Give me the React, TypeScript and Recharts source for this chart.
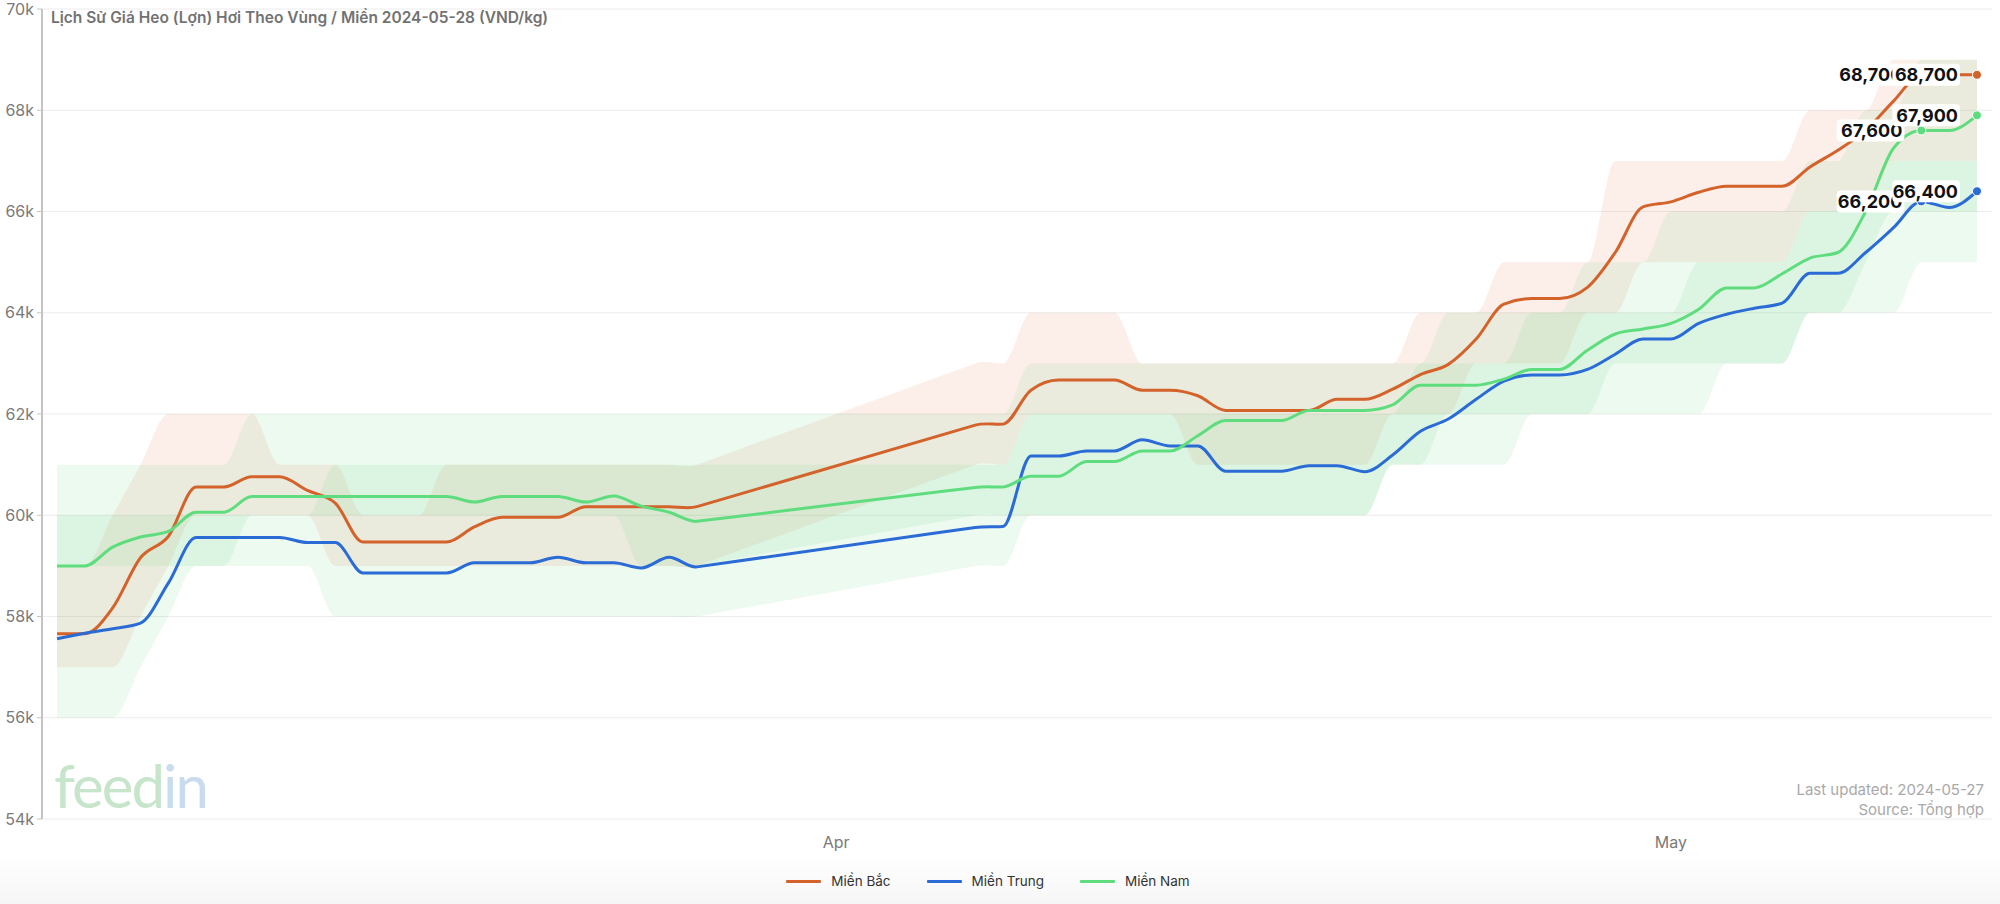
import React from 'react';
import { ComposedChart, Area, Line, XAxis, YAxis, CartesianGrid, LabelList } from 'recharts';

// day 0 = 4 Mar 2024, no data between day 24 and day 32
const days = [
  0, 1, 2, 3, 4, 5, 6, 7, 8, 9, 10, 11, 12, 13, 14, 15, 16, 17, 18, 19, 20, 21, 22, 23,
  33, 34, 35, 36, 37, 38, 39, 40, 41, 42, 43, 44, 45, 46, 47, 48, 49, 50, 51, 52, 53, 54, 55, 56, 57, 58, 59, 60, 61, 62, 63, 64, 65, 66, 67, 68, 69,
];

const bac = [
  57660, 57660, 58170, 59160, 59580, 60560, 60560, 60760, 60760, 60490, 60240, 59470, 59470, 59470, 59470, 59770, 59960, 59960, 59960, 60170, 60170, 60170, 60170, 60170,
  61780, 61800, 62470, 62670, 62670, 62670, 62470, 62470, 62360, 62070, 62070, 62070, 62070, 62290, 62290, 62490, 62780, 62980, 63480, 64170, 64280, 64280, 64500, 65190, 66090, 66190, 66380, 66500, 66500, 66500, 66880, 67210, 67600, 68180, 68700, 68700, 68700,
];
const trung = [
  57560, 57670, 57760, 57870, 58660, 59560, 59560, 59560, 59560, 59460, 59460, 58860, 58860, 58860, 58860, 59060, 59060, 59060, 59170, 59060, 59060, 58960, 59170, 58980,
  59760, 59780, 61170, 61170, 61270, 61270, 61490, 61370, 61370, 60870, 60870, 60870, 60980, 60980, 60860, 61190, 61660, 61900, 62290, 62650, 62770, 62770, 62880, 63180, 63480, 63480, 63790, 63970, 64090, 64190, 64780, 64780, 65190, 65680, 66200, 66080, 66400,
];
const nam = [
  59000, 59000, 59370, 59570, 59680, 60060, 60060, 60370, 60370, 60370, 60370, 60370, 60370, 60370, 60370, 60260, 60370, 60370, 60370, 60260, 60380, 60180, 60060, 59880,
  60550, 60560, 60770, 60770, 61060, 61060, 61270, 61270, 61570, 61870, 61870, 61870, 62070, 62070, 62070, 62180, 62570, 62570, 62570, 62690, 62880, 62880, 63260, 63580, 63680, 63790, 64070, 64490, 64490, 64770, 65080, 65190, 66000, 67250, 67600, 67600, 67900,
];

// min / max across provinces (thousand VND)
const bacMin = [
  57, 57, 57, 58, 59, 60, 60, 60, 60, 60, 59, 59, 59, 59, 59, 59, 59, 59, 59, 59, 59, 59, 59, 59,
  61, 61, 62, 62, 62, 62, 62, 62, 61, 61, 61, 61, 61, 61, 61, 62, 62, 62, 63, 63, 63, 63, 64, 64, 65, 65, 65, 65, 65, 65, 66, 66, 66, 67, 67, 67, 67,
];
const bacMax = [
  59, 59, 60, 61, 62, 62, 62, 62, 61, 61, 61, 60, 60, 60, 61, 61, 61, 61, 61, 61, 61, 61, 61, 61,
  63, 63, 64, 64, 64, 64, 63, 63, 63, 63, 63, 63, 63, 63, 63, 63, 64, 64, 64, 65, 65, 65, 65, 67, 67, 67, 67, 67, 67, 67, 68, 68, 68, 69, 69, 69, 69,
];
const trungMin = [
  56, 56, 56, 57, 58, 59, 59, 59, 59, 59, 58, 58, 58, 58, 58, 58, 58, 58, 58, 58, 58, 58, 58, 58,
  59, 59, 60, 60, 60, 60, 60, 60, 60, 60, 60, 60, 60, 60, 60, 61, 61, 61, 61, 61, 62, 62, 62, 62, 62, 62, 62, 63, 63, 63, 64, 64, 64, 64, 65, 65, 65,
];
const trungMax = [
  60, 60, 60, 60, 60, 60, 60, 60, 60, 60, 61, 61, 61, 61, 61, 61, 61, 61, 61, 61, 61, 61, 61, 61,
  61, 61, 62, 62, 62, 62, 62, 62, 62, 62, 62, 62, 62, 62, 62, 62, 63, 63, 63, 63, 64, 64, 64, 64, 64, 64, 65, 65, 65, 65, 66, 66, 66, 67, 67, 67, 67,
];
const namMin = [
  59, 59, 59, 59, 59, 59, 59, 60, 60, 60, 60, 60, 60, 60, 60, 60, 60, 60, 60, 60, 60, 59, 59, 59,
  60, 60, 60, 60, 60, 60, 60, 60, 60, 60, 60, 60, 60, 60, 60, 61, 61, 62, 62, 62, 62, 62, 62, 63, 63, 63, 63, 63, 63, 63, 64, 64, 65, 66, 66, 66, 66,
];
const namMax = [
  61, 61, 61, 61, 61, 61, 61, 62, 62, 62, 62, 62, 62, 62, 62, 62, 62, 62, 62, 62, 62, 62, 62, 62,
  62, 62, 63, 63, 63, 63, 63, 63, 63, 63, 63, 63, 63, 63, 63, 63, 63, 64, 64, 64, 64, 64, 65, 65, 65, 66, 66, 66, 66, 66, 67, 67, 68, 68, 69, 69, 69,
];

const labelDays = [67, 69];
const monthTicks = [28, 58];
const monthNames = ['Apr', 'May'];
const yTicks = [54000, 56000, 58000, 60000, 62000, 64000, 66000, 68000, 70000];

const series = [
  { key: 'bac', name: 'Miền Bắc', color: '#d4622b', band: '#e8703c', bandOpacity: 0.11 },
  { key: 'trung', name: 'Miền Trung', color: '#2b6bd6', band: '#4fcf6a', bandOpacity: 0.1 },
  { key: 'nam', name: 'Miền Nam', color: '#5fdd7e', band: '#4fcf6a', bandOpacity: 0.1 },
];

const rows = days.map((day, i) => {
  const show = labelDays.includes(day);
  return {
    day,
    bac: bac[i],
    trung: trung[i],
    nam: nam[i],
    bacBand: [bacMin[i] * 1000, bacMax[i] * 1000],
    trungBand: [trungMin[i] * 1000, trungMax[i] * 1000],
    namBand: [namMin[i] * 1000, namMax[i] * 1000],
    bacLabel: show ? bac[i] : undefined,
    trungLabel: show ? trung[i] : undefined,
    namLabel: show ? nam[i] : undefined,
  };
});

const FONT = 'Inter, "Liberation Sans", sans-serif';

// monotone cubic curve; across a long gap between dates the segment is kept straight
const sgn = (v: number) => (v < 0 ? -1 : 1);
const gapCurve = (context: any) => {
  let pts: number[][] = [];
  let line = NaN;
  return {
    areaStart() { line = 0; },
    areaEnd() { line = NaN; },
    lineStart() { pts = []; },
    point(x: number, y: number) { pts.push([+x, +y]); },
    lineEnd() {
      const n = pts.length;
      if (n > 0) {
        if (line) context.lineTo(pts[0][0], pts[0][1]);
        else context.moveTo(pts[0][0], pts[0][1]);
        if (n === 2) context.lineTo(pts[1][0], pts[1][1]);
        if (n > 2) {
          const h: number[] = [];
          const s: number[] = [];
          for (let i = 0; i < n - 1; i++) {
            h.push(pts[i + 1][0] - pts[i][0]);
            s.push(h[i] ? (pts[i + 1][1] - pts[i][1]) / h[i] : 0);
          }
          const m: number[] = new Array(n).fill(0);
          for (let i = 1; i < n - 1; i++) {
            const h0 = h[i - 1];
            const h1 = h[i];
            if (Math.abs(h1) > 3 * Math.abs(h0)) m[i] = s[i];
            else if (Math.abs(h0) > 3 * Math.abs(h1)) m[i] = s[i - 1];
            else {
              const p = (s[i - 1] * h1 + s[i] * h0) / (h0 + h1);
              m[i] = (sgn(s[i - 1]) + sgn(s[i])) * Math.min(Math.abs(s[i - 1]), Math.abs(s[i]), 0.5 * Math.abs(p)) || 0;
            }
          }
          m[0] = (3 * s[0] - m[1]) / 2;
          m[n - 1] = (3 * s[n - 2] - m[n - 2]) / 2;
          for (let i = 0; i < n - 1; i++) {
            const dx = h[i] / 3;
            context.bezierCurveTo(
              pts[i][0] + dx, pts[i][1] + dx * m[i],
              pts[i + 1][0] - dx, pts[i + 1][1] - dx * m[i + 1],
              pts[i + 1][0], pts[i + 1][1],
            );
          }
        }
      }
      if (line || (line !== 0 && n === 1)) context.closePath();
      line = 1 - line;
    },
  };
};

const makeDot = (color: string) => (props: any) => {
  const { cx, cy, payload, index } = props;
  if (!payload || !labelDays.includes(payload.day)) return <g key={`dot-${index}`} />;
  return <circle key={`dot-${index}`} cx={cx} cy={cy} r={4.5} fill={color} stroke="#fff" strokeWidth={1} />;
};

const PriceLabel = (props: any) => {
  const { value } = props;
  if (value === undefined || value === null) return null;
  const x = props.x ?? props.viewBox?.x;
  const y = props.y ?? props.viewBox?.y;
  const text = Number(value).toLocaleString('en-US');
  const w = text.length * 10.6 + 4;
  const right = x - 17;
  return (
    <g>
      <rect x={right - w} y={y - 11} width={w} height={22} rx={4} fill="#fff" />
      <text x={right - 2} y={y} dy="0.36em" textAnchor="end" fontSize={18} fontWeight={700} fill="#111" fontFamily={FONT}>
        {text}
      </text>
    </g>
  );
};

export default function App() {
  return (
    <div style={{ position: 'absolute', left: 0, top: 0, width: 2000, height: 904, background: '#fff', fontFamily: FONT, overflow: 'hidden' }}>
      <div style={{ position: 'absolute', left: 0, right: 0, bottom: 0, height: 50, background: 'linear-gradient(to bottom, rgba(0,0,0,0), rgba(0,0,0,0.035))' }} />
      <ComposedChart width={2000} height={904} data={rows} margin={{ top: 9, right: 8, bottom: 45, left: 0 }}>
        <CartesianGrid vertical={false} stroke="#ececec" />
        <XAxis
          dataKey="day"
          type="number"
          domain={[-0.539, 69.54]}
          allowDataOverflow
          ticks={monthTicks}
          tickFormatter={(v: number) => monthNames[monthTicks.indexOf(v)] ?? ''}
          axisLine={false}
          tickLine={false}
          tickMargin={12}
          height={40}
          tick={{ fill: '#7a7a7a', fontSize: 16, fontFamily: FONT }}
        />
        <YAxis
          domain={[54000, 70000]}
          ticks={yTicks}
          allowDataOverflow
          width={42}
          tickFormatter={(v: number) => `${v / 1000}k`}
          axisLine={{ stroke: '#c4c4c4', strokeWidth: 2 }}
          tickLine={{ stroke: '#c4c4c4' }}
          tickSize={5}
          tickMargin={3}
          tick={{ fill: '#7a7a7a', fontSize: 16, fontFamily: FONT }}
        />
        {series.map((s) => (
          <Area
            key={`${s.key}Band`}
            type={gapCurve as any}
            dataKey={`${s.key}Band`}
            stroke="none"
            fill={s.band}
            fillOpacity={s.bandOpacity}
            isAnimationActive={false}
            activeDot={false}
          />
        ))}
        {series.map((s) => (
          <Line
            key={s.key}
            type={gapCurve as any}
            dataKey={s.key}
            stroke={s.color}
            strokeWidth={3}
            dot={makeDot(s.color)}
            activeDot={false}
            isAnimationActive={false}
          />
        ))}
        {series.map((s) => (
          <Line
            key={`${s.key}Labels`}
            type="linear"
            dataKey={s.key}
            stroke="none"
            dot={false}
            activeDot={false}
            isAnimationActive={false}
          >
            <LabelList dataKey={`${s.key}Label`} content={PriceLabel} />
          </Line>
        ))}
      </ComposedChart>

      <div style={{ position: 'absolute', left: 51, top: 8, fontSize: 15.5, fontWeight: 600, color: '#727272', lineHeight: '20px' }}>
        Lịch Sử Giá Heo (Lợn) Hơi Theo Vùng / Miền 2024-05-28 (VND/kg)
      </div>

      <div style={{ position: 'absolute', right: 16, top: 780, textAlign: 'right', fontSize: 15, color: '#a9a9a9', lineHeight: '20px' }}>
        <div>Last updated: 2024-05-27</div>
        <div>Source: Tổng hợp</div>
      </div>

      <div style={{ position: 'absolute', left: 54, top: 750, fontSize: 60, fontFamily: 'Lato, sans-serif', fontWeight: 400, lineHeight: '70px', letterSpacing: -2 }}>
        <span style={{ color: '#c6e5cb' }}>feed</span>
        <span style={{ color: '#c9dcef' }}>in</span>
      </div>

      <div style={{ position: 'absolute', left: 0, width: 1976, top: 873, display: 'flex', justifyContent: 'center', gap: 36, fontSize: 13.5, color: '#333' }}>
        {series.map((s) => (
          <div key={s.key} style={{ display: 'flex', alignItems: 'center', gap: 10 }}>
            <span style={{ display: 'inline-block', width: 35, height: 3, background: s.color, borderRadius: 1 }} />
            <span>{s.name}</span>
          </div>
        ))}
      </div>
    </div>
  );
}
